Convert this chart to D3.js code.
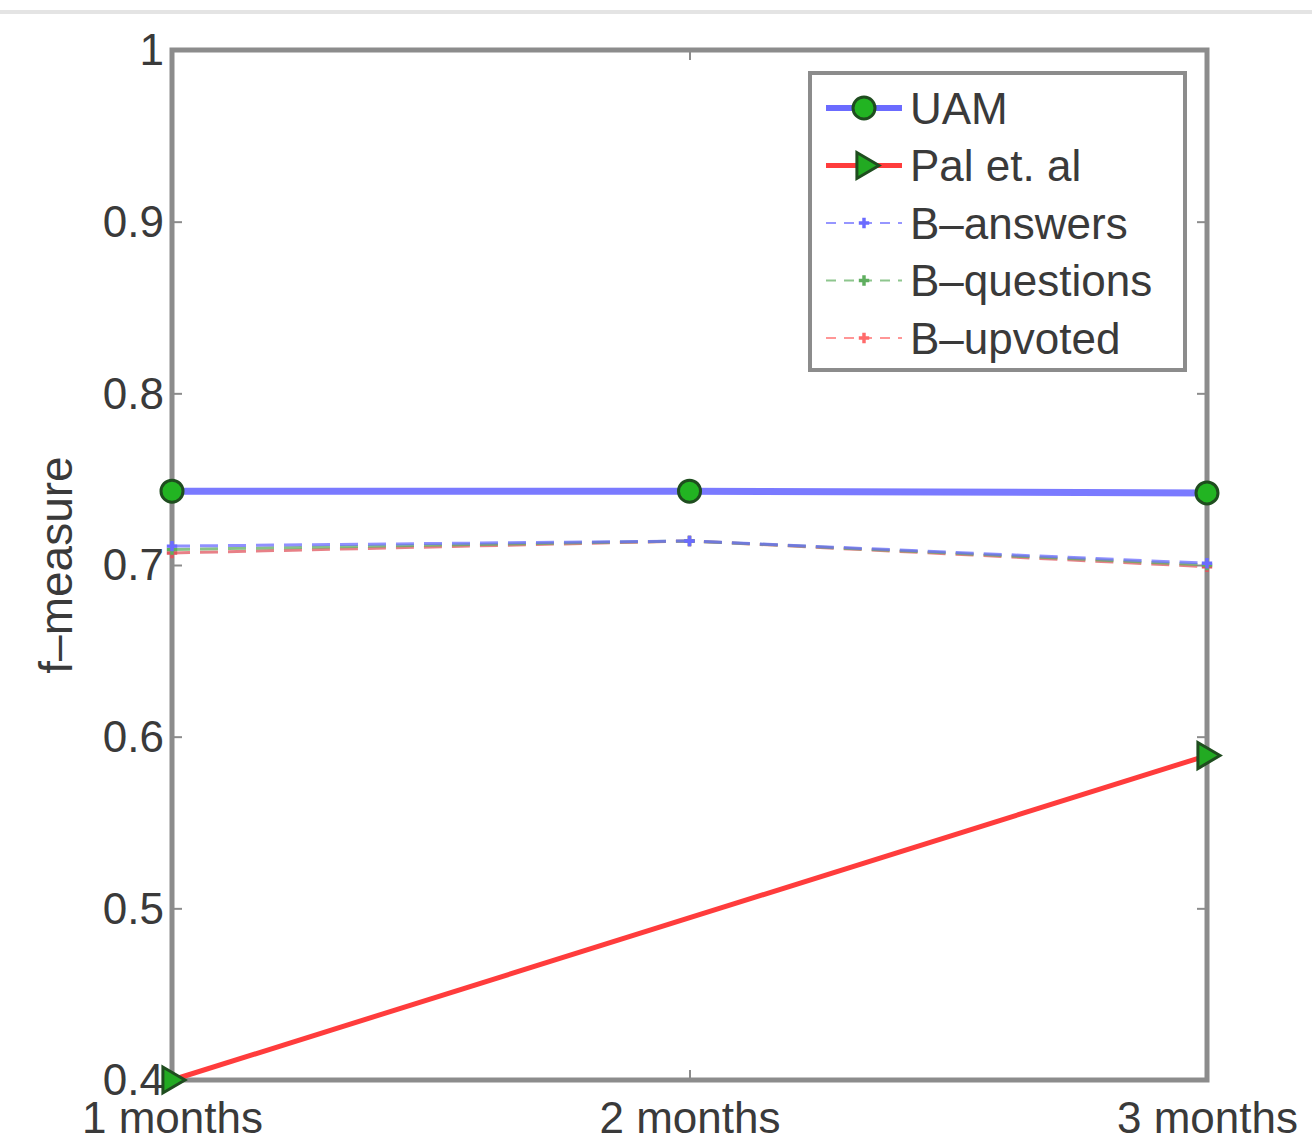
<!DOCTYPE html>
<html>
<head>
<meta charset="utf-8">
<script src="https://cdn.jsdelivr.net/npm/d3@7"></script>
<style>
body{margin:0;background:#fff;}
svg{display:block;font-family:"Liberation Sans",Arial,sans-serif;}
</style>
</head>
<body>
<svg id="chart" width="1312" height="1144"></svg>
<script>
// data
let months = ["1 months","2 months","3 months"];
let uam = [0.743, 0.743, 0.742];
let palMonths = ["1 months","3 months"];
let pal = [0.400, 0.589];
let bAnswers = [0.711, 0.714, 0.701];
let bQuestions = [0.709, 0.714, 0.700];
let bUpvoted = [0.707, 0.714, 0.699];
let yTicks = [0.4, 0.5, 0.6, 0.7, 0.8, 0.9, 1];
let yTickLabels = ["0.4","0.5","0.6","0.7","0.8","0.9","1"];
let legendNames = ["UAM","Pal et. al","B–answers","B–questions","B–upvoted"];

let svg = d3.select("#chart");
let margin = {top: 50, right: 105, bottom: 64, left: 172};
let width = +svg.attr("width") - margin.left - margin.right;
let height = +svg.attr("height") - margin.top - margin.bottom;

// thin gray rule across the top of the page
svg.append("line")
	.attr("x1",0).attr("x2",1312).attr("y1",12).attr("y2",12)
	.attr("stroke","#e4e4e4").attr("stroke-width",4);

let g = svg.append("g").attr("transform","translate(" + margin.left + "," + margin.top + ")");

let x = d3.scalePoint().domain(months).range([0, width]);
let y = d3.scaleLinear().domain([0.4, 1]).range([height, 0]);

let axisColor = "#8c8c8c";
let tickFont = 44;

// left axis, ticks pointing inward
let yAxis = g.append("g")
	.call(d3.axisLeft(y).tickValues(yTicks).tickFormat((d,i) => yTickLabels[i]).tickSizeInner(-10).tickSizeOuter(0).tickPadding(8));
yAxis.select(".domain").remove();
yAxis.selectAll("line").attr("stroke",axisColor).attr("stroke-width",2);
yAxis.selectAll("text").attr("fill","#3a3a3a").style("font-size",tickFont + "px").attr("dy","0.34em");

// right ticks
let yAxisR = g.append("g").attr("transform","translate(" + width + ",0)")
	.call(d3.axisRight(y).tickValues(yTicks).tickFormat("").tickSizeInner(-10).tickSizeOuter(0));
yAxisR.select(".domain").remove();
yAxisR.selectAll("line").attr("stroke",axisColor).attr("stroke-width",2);

// bottom axis
let xAxis = g.append("g").attr("transform","translate(0," + height + ")")
	.call(d3.axisBottom(x).tickSizeInner(-10).tickSizeOuter(0).tickPadding(20));
xAxis.select(".domain").remove();
xAxis.selectAll("line").attr("stroke",axisColor).attr("stroke-width",2);
xAxis.selectAll("text").attr("fill","#3a3a3a").style("font-size",tickFont + "px").attr("dy","0.75em");

// top ticks
let xAxisT = g.append("g")
	.call(d3.axisTop(x).tickFormat("").tickSizeInner(-10).tickSizeOuter(0));
xAxisT.select(".domain").remove();
xAxisT.selectAll("line").attr("stroke",axisColor).attr("stroke-width",2);

// box
g.append("rect")
	.attr("x",0).attr("y",0).attr("width",width).attr("height",height)
	.attr("fill","none").attr("stroke",axisColor).attr("stroke-width",5);

// y label
svg.append("text")
	.attr("transform","translate(72," + (margin.top + height/2) + ") rotate(-90)")
	.attr("text-anchor","middle")
	.attr("fill","#3a3a3a")
	.style("font-size","46px")
	.text("f–measure");

let line = d3.line().x(d => x(d[0])).y(d => y(d[1]));

// baselines, dashed
let baselines = [
	{vals: bUpvoted, color: "#e0555f"},
	{vals: bQuestions, color: "#5fae5f"},
	{vals: bAnswers, color: "#6b6bff"}
];
baselines.forEach(b => {
	let pts = months.map((m,i) => [m, b.vals[i]]);
	g.append("path").datum(pts)
		.attr("d", line)
		.attr("fill","none")
		.attr("stroke", b.color)
		.attr("stroke-width",3)
		.attr("stroke-dasharray","18,10")
		.attr("opacity",0.75);
	g.selectAll(null).data(pts).enter().append("path")
		.attr("transform", d => "translate(" + x(d[0]) + "," + y(d[1]) + ")")
		.attr("d", d3.symbol(d3.symbolCross, 60)())
		.attr("fill", b.color);
});

// Pal et. al
let palPts = palMonths.map((m,i) => [m, pal[i]]);
g.append("path").datum(palPts)
	.attr("d", line)
	.attr("fill","none")
	.attr("stroke","#ff3c3c")
	.attr("stroke-width",5);

function tri(cx, cy, s){
	return "M" + (cx + s) + "," + cy + "L" + (cx - s*0.7) + "," + (cy - s) + "L" + (cx - s*0.7) + "," + (cy + s) + "Z";
}
g.selectAll(".palm").data(palPts).enter().append("path")
	.attr("class","palm")
	.attr("d", d => tri(x(d[0]), y(d[1]), 13))
	.attr("fill","#22aa22")
	.attr("stroke","#1f4d1f")
	.attr("stroke-width",3);

// UAM
let uamPts = months.map((m,i) => [m, uam[i]]);
g.append("path").datum(uamPts)
	.attr("d", line)
	.attr("fill","none")
	.attr("stroke","#7a7aff")
	.attr("stroke-width",7);
g.selectAll(".uamm").data(uamPts).enter().append("circle")
	.attr("class","uamm")
	.attr("cx", d => x(d[0]))
	.attr("cy", d => y(d[1]))
	.attr("r",11)
	.attr("fill","#22b422")
	.attr("stroke","#1f4d1f")
	.attr("stroke-width",3);

// legend
let leg = svg.append("g").attr("transform","translate(810,73)");
leg.append("rect")
	.attr("x",0).attr("y",0).attr("width",375).attr("height",297)
	.attr("fill","#fff").attr("stroke","#8c8c8c").attr("stroke-width",4);

let legStyle = [
	{color:"#6b6bff", w:6, dash:null, mark:"circle"},
	{color:"#ff3c3c", w:5, dash:null, mark:"tri"},
	{color:"#6b6bff", w:2, dash:"10,8", mark:"small"},
	{color:"#5fae5f", w:2, dash:"10,8", mark:"small"},
	{color:"#ff6b6b", w:2, dash:"10,8", mark:"small"}
];
let rows = leg.selectAll(".row").data(legendNames).enter().append("g")
	.attr("class","row")
	.attr("transform", (d,i) => "translate(0," + (35 + i*57.5) + ")");
rows.append("line")
	.attr("x1",16).attr("x2",92).attr("y1",0).attr("y2",0)
	.attr("stroke",(d,i) => legStyle[i].color)
	.attr("stroke-width",(d,i) => legStyle[i].w)
	.attr("stroke-dasharray",(d,i) => legStyle[i].dash)
	.attr("opacity",(d,i) => legStyle[i].dash ? 0.7 : 1);
rows.each(function(d,i){
	let r = d3.select(this);
	let s = legStyle[i];
	if(s.mark === "circle"){
		r.append("circle").attr("cx",54).attr("cy",0).attr("r",11)
			.attr("fill","#22b422").attr("stroke","#1f4d1f").attr("stroke-width",3);
	} else if(s.mark === "tri"){
		r.append("path").attr("d",tri(56,0,13))
			.attr("fill","#22aa22").attr("stroke","#1f4d1f").attr("stroke-width",3);
	} else {
		r.append("path").attr("transform","translate(54,0)")
			.attr("d",d3.symbol(d3.symbolCross,60)()).attr("fill",s.color);
	}
});
rows.append("text")
	.attr("x",100).attr("y",0).attr("dy","0.36em")
	.attr("fill","#3a3a3a")
	.style("font-size","44px")
	.text(d => d);
</script>
</body>
</html>
